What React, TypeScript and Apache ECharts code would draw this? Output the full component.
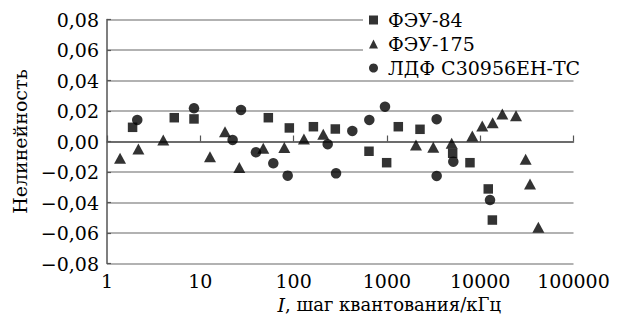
import React, { useEffect, useRef } from "react";
import * as echarts from "echarts";

const seriesNames = ["ФЭУ-84", "ФЭУ-175", "ЛДФ С30956ЕН-ТС"];

const feu84X = [1.88, 5.26, 8.56, 53.6, 90, 163, 280, 643, 994, 1325, 2264, 5070, 7770, 12200, 13500];
const feu84Y = [0.0093, 0.0156, 0.0148, 0.0156, 0.0089, 0.0097, 0.0082, -0.0064, -0.0139, 0.0097, 0.008, -0.0077, -0.0139, -0.0311, -0.0515];

const feu175X = [1.38, 2.17, 4.01, 12.7, 18.4, 26.2, 47.3, 79.5, 129, 208, 2050, 3140, 4945, 8230, 10520, 13600, 17270, 24200, 30700, 34200, 42000];
const feu175Y = [-0.011, -0.0049, 0.001, -0.01, 0.0064, -0.017, -0.0045, -0.004, 0.0016, 0.0047, -0.0023, -0.0038, -0.0012, 0.0036, 0.0102, 0.0123, 0.018, 0.0169, -0.0117, -0.0279, -0.0563];

const ldfX = [2.11, 8.56, 22.2, 27.3, 39.5, 60.6, 86.4, 232, 285, 426, 648, 954, 3415, 3415, 5150, 12740];
const ldfY = [0.0141, 0.0218, 0.001, 0.0207, -0.0071, -0.0143, -0.0224, -0.0018, -0.0209, 0.0069, 0.0141, 0.0228, 0.0146, -0.0226, -0.0132, -0.0384];

const FONT = "DejaVu Serif";

function pairs(xs: number[], ys: number[]) {
  return xs.map((x, i) => [x, ys[i]]);
}

export default function App() {
  const ref = useRef<HTMLDivElement>(null);
  useEffect(() => {
    if (!ref.current) return;
    const chart = echarts.init(ref.current, null, { renderer: "svg" });
    const axisColor = "#555";
    chart.setOption({
      animation: false,
      backgroundColor: "#fff",
      textStyle: { fontFamily: FONT, color: "#000" },
      grid: { left: 107, right: 45.5, top: 19.5, bottom: 56.5, containLabel: false },
      legend: {
        orient: "vertical",
        left: 363,
        top: 8,
        backgroundColor: "#fff",
        padding: [2, 40, 2, 6],
        itemWidth: 9,
        itemHeight: 9,
        itemGap: 4,
        textStyle: { fontFamily: FONT, fontSize: 19, color: "#000", padding: [0, 0, 0, 5], lineHeight: 20 },
        data: [
          { name: seriesNames[0], icon: "rect" },
          { name: seriesNames[1], icon: "triangle" },
          { name: seriesNames[2], icon: "circle" },
        ],
      },
      xAxis: {
        type: "log",
        logBase: 10,
        min: 1,
        max: 100000,
        name: "{i|I}, шаг квантования/кГц",
        nameLocation: "middle",
        nameGap: 24,
        nameTextStyle: {
          fontFamily: FONT,
          fontSize: 18,
          color: "#000",
          padding: [0, 0, 0, 98],
          rich: { i: { fontStyle: "italic", fontFamily: FONT, fontSize: 19, color: "#000" } },
        },
        axisLine: { show: true, lineStyle: { color: axisColor, width: 1.5 } },
        axisTick: { show: true, inside: true, length: 6, lineStyle: { color: axisColor, width: 1.2 } },
        minorTick: { show: false },
        splitLine: { show: false },
        axisLabel: {
          fontFamily: FONT,
          fontSize: 19,
          color: "#000",
          margin: 8,
          formatter: (v: number) => String(Math.round(v)),
        },
      },
      yAxis: {
        type: "value",
        min: -0.08,
        max: 0.08,
        interval: 0.02,
        name: "Нелинейность",
        nameLocation: "middle",
        nameGap: 73,
        nameTextStyle: { fontFamily: FONT, fontSize: 19, color: "#000" },
        axisLine: { show: true, lineStyle: { color: axisColor, width: 1.5 } },
        axisTick: { show: true, inside: true, length: 4, lineStyle: { color: axisColor, width: 1.2 } },
        splitLine: { show: true, lineStyle: { color: "#999", width: 1.6 } },
        axisLabel: {
          fontFamily: FONT,
          fontSize: 19,
          color: "#000",
          margin: 8,
          formatter: (v: number) => {
            const r = Math.round(v * 100) / 100;
            const s = Math.abs(r).toFixed(2).replace(".", ",");
            return r < 0 ? "−" + s : s;
          },
        },
      },
      series: [
        {
          name: seriesNames[0],
          type: "scatter",
          symbol: "rect",
          symbolSize: 9.5,
          itemStyle: { color: "#000" },
          data: pairs(feu84X, feu84Y),
        },
        {
          name: seriesNames[1],
          type: "scatter",
          symbol: "triangle",
          symbolSize: [12, 11],
          itemStyle: { color: "#000" },
          data: pairs(feu175X, feu175Y),
        },
        {
          name: seriesNames[2],
          type: "scatter",
          symbol: "circle",
          symbolSize: 10.5,
          itemStyle: { color: "#000" },
          data: pairs(ldfX, ldfY),
        },
      ],
    });
    return () => chart.dispose();
  }, []);
  return <div ref={ref} style={{ width: 619, height: 320, position: "absolute", left: 0, top: 0 }} />;
}
